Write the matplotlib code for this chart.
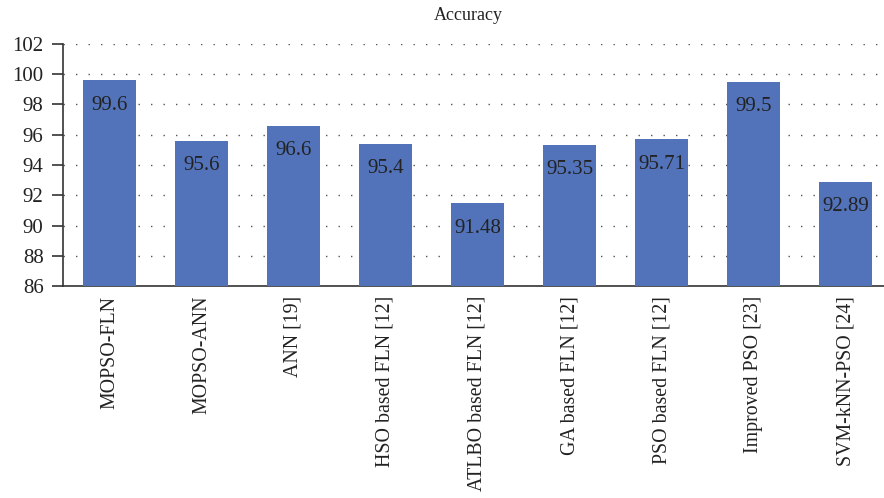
import matplotlib
matplotlib.use("Agg")
import matplotlib.pyplot as plt

categories = ["MOPSO-FLN", "MOPSO-ANN", "ANN [19]", "HSO based FLN [12]",
              "ATLBO based FLN [12]", "GA based FLN [12]", "PSO based FLN [12]",
              "Improved PSO [23]", "SVM-kNN-PSO [24]"]
values = [99.6, 95.6, 96.6, 95.4, 91.48, 95.35, 95.71, 99.5, 92.89]
value_labels = ["99.6", "95.6", "96.6", "95.4", "91.48", "95.35", "95.71", "99.5", "92.89"]
yticks = [86, 88, 90, 92, 94, 96, 98, 100, 102]

plt.rcParams['font.family'] = ['Liberation Serif', 'DejaVu Serif']

fig = plt.figure(figsize=(8.84, 4.98), dpi=100)
ax = fig.add_axes([63/884, 1 - 286/498, (892-63)/884, (286-44)/498])

x = list(range(len(categories)))
ax.bar(x, values, width=0.576, color="#5273b9", zorder=3, bottom=0)
ax.set_ylim(86, 102)
ax.set_xlim(-0.505, len(categories) - 1 + 0.505)
ax.set_yticks(yticks)
ax.set_yticklabels([str(t) for t in yticks], fontsize=15, color="#222222")
ax.set_xticks(x)
ax.set_xticklabels(categories, rotation=90, fontsize=14.3, color="#222222")
ax.tick_params(axis='x', length=0, pad=7)
ax.tick_params(axis='y', length=8, width=1.2, color="#333333", pad=6, direction='out')

ax.yaxis.grid(True, linestyle=(0, (1, 8)), color="#555555", linewidth=1, zorder=0)
ax.set_axisbelow(True)
for s in ["top", "right"]:
    ax.spines[s].set_visible(False)
for s in ["left", "bottom"]:
    ax.spines[s].set_color("#333333")
    ax.spines[s].set_linewidth(1.2)

for xi, v, lab in zip(x, values, value_labels):
    ax.annotate(lab, (xi, v), xytext=(0, -25), textcoords='offset pixels',
                ha='center', va='center', fontsize=15, color="#222222", zorder=4)

fig.text(468 / 884, 1 - 16/498, "Accuracy", ha='center', va='center',
         fontsize=13, color="#222222")

fig.savefig("out.png", dpi=100)
